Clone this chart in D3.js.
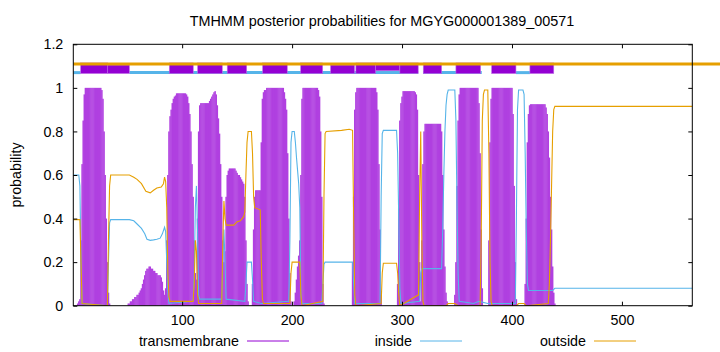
<!DOCTYPE html>
<html><head><meta charset="utf-8">
<script src="https://cdn.jsdelivr.net/npm/d3@7"></script>
<style>
html,body{margin:0;padding:0;background:#fff;}
text{font-family:"Liberation Sans",Arial,sans-serif;fill:#000;}
</style></head>
<body><svg id="chart" width="720" height="352"></svg>
<script>
// ---------- DATA ----------
const seqLength = 564;
const xTicks = [100, 200, 300, 400, 500];
const yTicks = [0, 0.2, 0.4, 0.6, 0.8, 1, 1.2];
const seriesNames = ["transmembrane", "inside", "outside"];

// transmembrane posterior per residue (residue 1..440; beyond = 0)
const tmProb = [
0,0,0,0,0.01,0.02,0.03,0.3,0.65,0.85,
0.97,1,1,1,1,1,1,1,1,1,
1,1,1,1,1,1,0.99,0.95,0.8,0.6,
0.4,0.2,0.06,0.01,0,0,0,0,0,0,
0,0,0,0,0,0,0,0,0,0,
0.01,0.01,0.02,0.02,0.03,0.03,0.04,0.04,0.05,0.05,
0.06,0.07,0.08,0.1,0.12,0.14,0.16,0.17,0.17,0.18,
0.18,0.17,0.17,0.16,0.16,0.15,0.15,0.14,0.14,0.14,
0.13,0.11,0.07,0.05,0.08,0.3,0.6,0.8,0.87,0.9,
0.93,0.95,0.96,0.965,0.975,0.975,0.975,0.975,0.975,0.975,
0.975,0.975,0.975,0.97,0.96,0.93,0.88,0.8,0.65,0.5,
0.3,0.15,0.12,0.4,0.8,0.92,0.93,0.93,0.93,0.93,
0.93,0.93,0.93,0.93,0.94,0.95,0.96,0.97,0.98,0.985,
0.97,0.92,0.86,0.79,0.65,0.5,0.3,0.2,0.25,0.5,
0.6,0.62,0.63,0.63,0.63,0.63,0.63,0.63,0.62,0.61,
0.6,0.6,0.59,0.58,0.57,0.56,0.5,0.3,0.1,0.02,
0,0,0,0.1,0.35,0.5,0.53,0.53,0.53,0.53,
0.53,0.75,0.95,0.98,0.99,0.99,1,1,1,1,
1,1,1,1,1,1,1,1,1,1,
1,1,0.98,0.95,0.9,0.7,0.4,0.15,0.02,0,
0,0.02,0.06,0.12,0.18,0.23,0.3,0.6,0.95,1,
1,1,1,1,1,1,1,1,1,1,
1,1,1,0.99,0.96,0.8,0.5,0.1,0.01,0,
0,0,0,0,0,0,0,0,0,0,
0,0,0,0,0,0,0,0,0,0,
0,0,0,0,0.2,0.5,0.9,0.98,1,1,
1,1,1,1,1,1,1,1,1,1,
1,1,1,1,1,1,0.98,0.9,0.65,0.35,
0.05,0,0,0,0,0,0,0,0,0,
0,0,0,0,0,0.1,0.45,0.85,0.93,0.96,
0.985,0.985,0.985,0.985,0.985,0.985,0.985,0.985,0.985,0.985,
0.985,0.98,0.97,0.9,0.6,0.2,0.02,0.3,0.65,0.8,
0.835,0.835,0.835,0.835,0.835,0.835,0.835,0.835,0.835,0.835,
0.835,0.835,0.835,0.835,0.835,0.8,0.6,0.35,0.18,0.06,
0.02,0,0,0,0,0,0,0.05,0.2,0.55,
0.85,0.97,1,1,1,1,1,1,1,1,
1,1,1,1,1,1,1,1,1,0.93,
0.7,0.35,0.08,0,0,0,0,0,0.3,0.75,
0.95,1,1,1,1,1,1,1,1,1,
1,1,1,1,1,1,1,1,1,1,
0.88,0.55,0.2,0.03,0,0,0,0,0,0,
0,0.1,0.4,0.75,0.88,0.92,0.925,0.925,0.925,0.925,
0.925,0.925,0.925,0.925,0.925,0.925,0.925,0.925,0.925,0.925,
0.91,0.88,0.8,0.68,0.5,0.35,0.18,0.06,0.01,0
];

// inside probability [residue, value]
const insideProb = [
[1,0.6],[6,0.6],[7,0.55],[8,0.2],[9,0.01],[32,0.0],[33,0.2],[34,0.38],[35,0.395],[52,0.395],
[56,0.39],[59,0.375],[63,0.355],[66,0.33],[68,0.305],[71,0.3],[74,0.302],[77,0.305],[80,0.31],
[82,0.33],[84,0.36],[85,0.34],[86,0.2],[87,0.06],[88,0.01],[110,0.02],[111,0.15],[112,0.45],
[113,0.55],[114,0.35],[115,0.05],[116,0.03],[136,0.03],[137,0.2],[138,0.35],[139,0.2],[140,0.03],
[157,0.02],[158,0.1],[159,0.2],[163,0.2],[164,0.12],[165,0.02],[172,0.01],[197,0.02],[198,0.3],
[199,0.75],[200,0.8],[202,0.8],[203,0.75],[204,0.68],[205,0.62],[206,0.56],[207,0.45],[208,0.05],
[209,0.01],[227,0.01],[228,0.1],[229,0.19],[230,0.2],[255,0.2],[256,0.1],[257,0.01],[280,0.01],
[281,0.5],[282,0.79],[283,0.805],[295,0.805],[296,0.7],[297,0.4],[298,0.08],[299,0.01],[316,0.02],
[317,0.15],[318,0.17],[336,0.17],[337,0.35],[338,0.6],[339,0.8],[340,0.92],[341,0.97],[342,0.99],
[348,0.99],[349,0.85],[350,0.45],[351,0.15],[352,0.02],[365,0.01],[370,0.02],[378,0.01],[403,0.01],
[404,0.4],[405,0.9],[406,0.99],[410,0.99],[411,0.97],[412,0.7],[413,0.35],[414,0.1],[415,0.07],
[437,0.07],[439,0.08],[564,0.08]
];

// outside probability [residue, value]
const outsideProb = [
[1,0.395],[7,0.395],[8,0.2],[9,0.01],[32,0.0],[33,0.3],[34,0.55],[35,0.6],[52,0.6],[56,0.59],
[59,0.58],[63,0.56],[67,0.525],[71,0.518],[74,0.53],[77,0.54],[81,0.545],[83,0.56],[84,0.59],
[85,0.57],[86,0.45],[87,0.15],[88,0.04],[89,0.02],[110,0.02],[111,0.1],[112,0.3],[113,0.25],
[114,0.05],[115,0.01],[136,0.01],[137,0.3],[138,0.48],[139,0.4],[140,0.37],[147,0.37],[150,0.385],
[153,0.39],[156,0.41],[157,0.43],[158,0.6],[159,0.75],[160,0.8],[163,0.8],[164,0.7],[165,0.5],
[166,0.45],[171,0.44],[172,0.2],[173,0.03],[174,0.01],[198,0.01],[199,0.15],[200,0.2],[207,0.2],
[208,0.05],[209,0.0],[228,0.02],[229,0.5],[230,0.79],[231,0.8],[245,0.805],[252,0.81],[255,0.805],
[256,0.4],[257,0.05],[258,0.0],[281,0.01],[282,0.15],[283,0.195],[295,0.195],[296,0.15],[297,0.05],
[298,0.0],[315,0.05],[316,0.5],[317,0.8],[318,0.3],[319,0.02],[320,0.0],[340,0.0],[342,0.01],
[348,0.01],[351,0.0],[371,0.0],[372,0.3],[373,0.85],[374,0.97],[375,0.99],[378,0.99],[379,0.7],
[380,0.2],[381,0.02],[382,0],[404,0.0],[406,0.01],[411,0.01],[413,0],[433,0.01],[434,0.1],
[435,0.3],[436,0.55],[437,0.8],[438,0.9],[439,0.915],[564,0.915]
];

// predicted topology band (residue ranges)
const helixSegments = [[7.7,32.3],[88.3,110.1],[114.1,136.5],[141,158.7],[173.2,195.6],[207.8,227.8],[258,276],[298,314.7],[319.3,336],[349,371.5],[381.5,403.6],[416.3,438]];
const helixLowSegments = [[32.3,52],[235,256.8]];
const helixHighSegments = [[276,298]];
const insideSegments = [[1,7.7],[52,314.7],[319.3,372.5],[403.6,416.3]];
const outsideSegments = [[1,590]];
const bandLevels = {outside:1.11, helix:1.09, inside:1.07};

// ---------- DRAW ----------
const W = 720, H = 352;
const svg = d3.select("#chart");
svg.append("rect").attr("width",W).attr("height",H).attr("fill","#fff");
const L = 73.3, R = 692.3, T = 44.3, B = 305.7;
const x = d3.scaleLinear().domain([1, seqLength]).range([L, R]);
const y = d3.scaleLinear().domain([0, 1.2]).range([B, T]);
const cPurple = "#9400d3", cImp = "#b040e0", cBlue = "#56b4e9", cOrange = "#e69f00";

svg.append("clipPath").attr("id","clip").append("rect")
  .attr("x",L).attr("y",T).attr("width",R-L).attr("height",B-T);

// impulses
svg.append("g").attr("clip-path","url(#clip)")
  .selectAll("rect").data(tmProb.map((v,i)=>[i+1,v]).filter(d=>d[1]>0))
  .join("rect")
  .attr("x", d=>x(d[0])-0.75).attr("width",1.5)
  .attr("y", d=>y(d[1])).attr("height", d=>y(0)-y(d[1]))
  .attr("fill", cImp);

const line = d3.line().x(d=>x(d[0])).y(d=>y(d[1]));
const lg = svg.append("g").attr("clip-path","url(#clip)");
lg.append("path").datum(insideProb).attr("d",line).attr("fill","none").attr("stroke",cBlue).attr("stroke-width",1.1);
lg.append("path").datum(outsideProb).attr("d",line).attr("fill","none").attr("stroke",cOrange).attr("stroke-width",1.1);

// topology band
const yh = y(bandLevels.helix);
const band = svg.append("g");
band.selectAll("line.in").data(insideSegments).join("line").attr("class","in")
  .attr("x1",d=>x(d[0])).attr("x2",d=>x(d[1]))
  .attr("y1",y(bandLevels.inside)).attr("y2",y(bandLevels.inside))
  .attr("stroke",cBlue).attr("stroke-width",3);
band.selectAll("rect.hlow").data(helixLowSegments).join("rect").attr("class","hlow")
  .attr("x",d=>x(d[0])).attr("width",d=>x(d[1])-x(d[0]))
  .attr("y",yh-3.3).attr("height",8.6)
  .attr("fill",cPurple).attr("stroke","#c070e8").attr("stroke-width",0.6);
band.selectAll("rect.hhigh").data(helixHighSegments).join("rect").attr("class","hhigh")
  .attr("x",d=>x(d[0])).attr("width",d=>x(d[1])-x(d[0]))
  .attr("y",yh-5.3).attr("height",7.8)
  .attr("fill",cPurple).attr("stroke","#c070e8").attr("stroke-width",0.6);
band.selectAll("rect.h").data(helixSegments).join("rect").attr("class","h")
  .attr("x",d=>x(d[0])).attr("width",d=>x(d[1])-x(d[0]))
  .attr("y",yh-5.3).attr("height",10.6)
  .attr("fill",cPurple).attr("stroke","#c070e8").attr("stroke-width",0.6);
band.selectAll("line.out").data(outsideSegments).join("line").attr("class","out")
  .attr("x1",d=>x(d[0])).attr("x2",d=>x(d[1]))
  .attr("y1",y(bandLevels.outside)).attr("y2",y(bandLevels.outside))
  .attr("stroke",cOrange).attr("stroke-width",3);

// axes
const fmt = d => String(+d.toFixed(1));
const ax = svg.append("g").attr("transform",`translate(0,${B})`)
  .call(d3.axisBottom(x).tickValues(xTicks).tickSizeInner(-4).tickSizeOuter(0).tickPadding(9));
const ay = svg.append("g").attr("transform",`translate(${L},0)`)
  .call(d3.axisLeft(y).tickValues(yTicks).tickFormat(fmt).tickSizeInner(-4).tickSizeOuter(0).tickPadding(10));
const at = svg.append("g").attr("transform",`translate(0,${T})`)
  .call(d3.axisTop(x).tickValues(xTicks).tickSizeInner(-4).tickSizeOuter(0).tickFormat(""));
const ar = svg.append("g").attr("transform",`translate(${R},0)`)
  .call(d3.axisRight(y).tickValues(yTicks).tickSizeInner(-4).tickSizeOuter(0).tickFormat(""));
[ax,ay,at,ar].forEach(g=>{
  g.select(".domain").remove();
  g.selectAll(".tick line").attr("stroke","#000").attr("stroke-width",1);
  g.selectAll("text").attr("font-size",14.3).attr("font-family","'Liberation Sans',Arial,sans-serif").attr("fill","#000");
});
ax.selectAll("text").attr("dy","0.75em");

// frame
svg.append("rect").attr("x",L).attr("y",T).attr("width",R-L).attr("height",B-T)
  .attr("fill","none").attr("stroke","#000").attr("stroke-width",1);

// title & labels
svg.append("text").attr("x",382).attr("y",26).attr("text-anchor","middle")
  .attr("font-size",14.4).text("TMHMM posterior probabilities for MGYG000001389_00571");
svg.append("text").attr("transform","translate(21,175) rotate(-90)").attr("text-anchor","middle")
  .attr("font-size",14.3).text("probability");

// legend
const legendItems = [
  {name:seriesNames[0], color:cPurple, tx:239, lx:247},
  {name:seriesNames[1], color:cBlue, tx:412, lx:420},
  {name:seriesNames[2], color:cOrange, tx:586, lx:594}
];
const leg = svg.append("g");
leg.selectAll("text").data(legendItems).join("text")
  .attr("x",d=>d.tx).attr("y",346).attr("text-anchor","end").attr("font-size",14.3).text(d=>d.name);
leg.selectAll("line").data(legendItems).join("line")
  .attr("x1",d=>d.lx).attr("x2",d=>d.lx+42).attr("y1",341).attr("y2",341)
  .attr("stroke",d=>d.color).attr("stroke-width",1);
</script></body></html>
